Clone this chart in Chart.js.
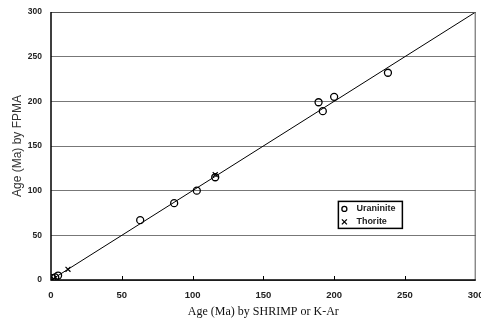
<!DOCTYPE html>
<html>
<head>
<meta charset="utf-8">
<script src="https://cdn.jsdelivr.net/npm/chart.js@4"></script>
<style>
  html, body { margin: 0; padding: 0; background: #fff; }
  #wrap { width: 481px; height: 322px; }
</style>
</head>
<body>
<div id="wrap"><canvas id="myChart" width="481" height="322"></canvas></div>
<script>
const ctx = document.getElementById('myChart');

// Uraninite ages: SHRIMP / K-Ar (x) vs FPMA (y)
const uraniniteX = [1, 3, 5, 63, 87, 103, 116, 189, 192, 200, 238];
const uraniniteY = [2, 3, 5, 67, 86, 100, 115, 199, 189, 205, 232];

// Thorite ages
const thoriteX = [2, 12, 116];
const thoriteY = [1, 12, 118];

// 1:1 line
const lineX = [0, 300];
const lineY = [0, 300];

const xTicks = [0, 50, 100, 150, 200, 250, 300];
const yTicks = [0, 50, 100, 150, 200, 250, 300];

function toPoints(xs, ys) {
    return xs.map((x, i) => ({ x: x, y: ys[i] }));
}

// frame, inside ticks and the boxed legend
const framePlugin = {
    id: 'frame',
    afterDraw(chart) {
        const c = chart.ctx;
        const a = chart.chartArea;
        const xs = chart.scales.x;
        c.save();
        c.strokeStyle = '#555';
        c.lineWidth = 1;
        c.beginPath();
        c.moveTo(a.left, a.top + 0.5);
        c.lineTo(a.right - 0.5, a.top + 0.5);
        c.lineTo(a.right - 0.5, a.bottom);
        c.stroke();

        c.strokeStyle = '#000';
        c.lineWidth = 1.5;
        c.beginPath();
        c.moveTo(a.left, a.top);
        c.lineTo(a.left, a.bottom);
        c.lineTo(a.right, a.bottom);
        c.stroke();

        c.lineWidth = 1;
        xTicks.slice(1, -1).forEach(v => {
            const px = Math.round(xs.getPixelForValue(v)) + 0.5;
            c.beginPath();
            c.moveTo(px, a.bottom);
            c.lineTo(px, a.bottom - 4);
            c.stroke();
        });

        // legend box
        const lx = xs.getPixelForValue(203);
        const ly = chart.scales.y.getPixelForValue(88);
        const lw = 64, lh = 27;
        c.fillStyle = '#fff';
        c.fillRect(lx, ly, lw, lh);
        c.strokeStyle = '#000';
        c.lineWidth = 1.5;
        c.strokeRect(lx, ly, lw, lh);
        c.font = 'bold 9px "Liberation Sans", Arial, sans-serif';
        c.fillStyle = '#222';
        c.textBaseline = 'middle';
        chart.data.datasets.slice(0, 2).forEach((ds, i) => {
            const cy = ly + 7.5 + i * 13;
            c.strokeStyle = '#000';
            c.lineWidth = 1.3;
            c.beginPath();
            if (ds.pointStyle === 'circle') {
                c.arc(lx + 6, cy, 2.5, 0, Math.PI * 2);
            } else {
                c.moveTo(lx + 3.5, cy - 2.5); c.lineTo(lx + 8.5, cy + 2.5);
                c.moveTo(lx + 8.5, cy - 2.5); c.lineTo(lx + 3.5, cy + 2.5);
            }
            c.stroke();
            c.fillText(ds.label, lx + 18, cy);
        });
        c.restore();
    }
};

const myChart = new Chart(ctx, {
    type: 'scatter',
    data: {
        datasets: [
            {
                label: 'Uraninite',
                data: toPoints(uraniniteX, uraniniteY),
                pointStyle: 'circle',
                pointRadius: 3.5,
                borderColor: '#000',
                backgroundColor: 'rgba(0,0,0,0)',
                borderWidth: 1.3
            },
            {
                label: 'Thorite',
                data: toPoints(thoriteX, thoriteY),
                pointStyle: 'crossRot',
                pointRadius: 3.5,
                borderColor: '#000',
                borderWidth: 1.2
            },
            {
                label: '1:1',
                data: toPoints(lineX, lineY),
                showLine: true,
                pointRadius: 0,
                borderColor: '#000',
                borderWidth: 1
            }
        ]
    },
    options: {
        responsive: false,
        animation: false,
        layout: {
            padding: { top: 12, right: 5, left: 0, bottom: 0 }
        },
        scales: {
            x: {
                type: 'linear',
                min: 0,
                max: 300,
                afterBuildTicks: s => { s.ticks = xTicks.map(v => ({ value: v })); },
                afterFit: s => { s.height = 42; s.paddingLeft = 0; s.paddingRight = 0; },
                grid: { drawOnChartArea: false, drawTicks: false },
                border: { display: false },
                ticks: {
                    padding: 10,
                    color: '#222',
                    font: { family: '"Liberation Sans", Arial, sans-serif', size: 9.5, weight: 'bold' }
                },
                title: {
                    display: true,
                    text: 'Age (Ma) by SHRIMP or K-Ar',
                    color: '#111',
                    padding: { top: 0, bottom: 3 },
                    font: { family: '"Liberation Serif", "Times New Roman", serif', size: 12 }
                }
            },
            y: {
                type: 'linear',
                min: 0,
                max: 300,
                afterBuildTicks: s => { s.ticks = yTicks.map(v => ({ value: v })); },
                afterFit: s => { s.width = 51; s.paddingTop = 0; s.paddingBottom = 0; },
                grid: { color: '#777', lineWidth: 1, drawTicks: false },
                border: { display: false },
                ticks: {
                    padding: 9,
                    color: '#222',
                    font: { family: '"Liberation Sans", Arial, sans-serif', size: 8.5, weight: 'bold' }
                },
                title: {
                    display: true,
                    text: 'Age (Ma) by FPMA',
                    color: '#333',
                    padding: { top: 10, bottom: 0 },
                    font: { family: '"Liberation Sans", Arial, sans-serif', size: 12 }
                }
            }
        },
        plugins: {
            legend: { display: false },
            tooltip: { enabled: false }
        }
    },
    plugins: [framePlugin]
});
</script>
</body>
</html>
